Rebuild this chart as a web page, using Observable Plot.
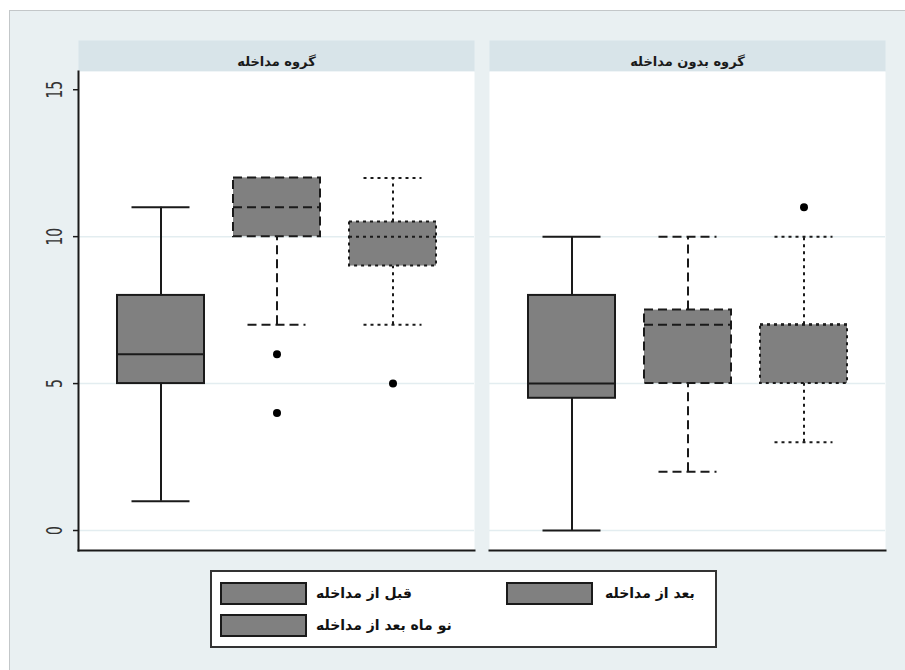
<!DOCTYPE html>
<html>
<head>
<meta charset="utf-8">
<script src="https://cdn.jsdelivr.net/npm/d3@7"></script>
<script src="https://cdn.jsdelivr.net/npm/@observablehq/plot@0.6"></script>
<style>
  html, body { margin: 0; padding: 0; background: #ffffff; }
  #page { position: relative; width: 905px; height: 670px; overflow: hidden; font-family: "DejaVu Sans", sans-serif; }
  #bg { position: absolute; left: 9px; top: 10px; width: 905px; height: 670px; background: #e9f0f2; border-top: 1.5px solid #c3c7c9; border-left: 1.5px solid #c3c7c9; }
  #chart { position: absolute; left: 0; top: 0; }
  #legend { position: absolute; left: 210px; top: 570px; width: 503px; height: 74px; background: #ffffff; border: 2px solid #333333; }
  .key { position: absolute; width: 83px; height: 19px; background: #808080; border: 2px solid #1a1a1a; }
  .lab { position: absolute; font-weight: bold; font-size: 14px; color: #111; white-space: nowrap; line-height: 23px; }
</style>
</head>
<body>
<div id="page">
  <div id="bg"></div>
  <div id="chart"></div>
  <div id="legend"></div>
</div>
<script>
// ---- data ----
const groups = ["گروه مداخله", "گروه بدون مداخله"];
const times = ["قبل از مداخله", "بعد از مداخله", "نو ماه بعد از مداخله"];
// box statistics, order: group 1 (3 times), group 2 (3 times)
const lowWhisker  = [1, 7, 7, 0, 2, 3];
const lowerQuart  = [5, 10, 9, 4.5, 5, 5];
const medians     = [6, 11, 10, 5, 7, 7];
const upperQuart  = [8, 12, 10.5, 8, 7.5, 7];
const highWhisker = [11, 12, 12, 10, 10, 10];
// outside values
const outlierGroup = [0, 0, 0, 1];
const outlierTime  = [1, 1, 2, 2];
const outlierValue = [6, 4, 5, 11];
const yTicks = [0, 5, 10, 15];
const gridValues = [0, 5, 10];

// ---- tables ----
const boxes = groups.flatMap((g, gi) => times.map((t, ti) => {
  const k = gi * times.length + ti;
  return {group: g, time: t, ti, lo: lowWhisker[k], q1: lowerQuart[k], med: medians[k], q3: upperQuart[k], hi: highWhisker[k]};
}));
const outliers = outlierValue.map((v, i) => ({group: groups[outlierGroup[i]], time: times[outlierTime[i]], value: v}));

// ---- styles ----
const dashes = [null, "9,5", "3,4"];
const ink = "#1a1a1a";
const W = 905, H = 560, mTop = 71, mBottom = 10, mLeft = 77, mRight = 19;
const innerH = H - mTop - mBottom;

const marks = [
  Plot.frame({fill: "#d8e4e9", stroke: "none", insetTop: -31, insetBottom: innerH}),
  Plot.frame({fill: "#ffffff", stroke: "none"}),
  Plot.ruleY(gridValues, {stroke: "#e3edf0", strokeWidth: 1.5}),
  Plot.text(groups, {fx: d => d, text: d => d, frameAnchor: "top", dy: -15, fontWeight: "bold", fontSize: 13, fill: ink}),
];

times.forEach((t, ti) => {
  const data = boxes.filter(d => d.ti === ti);
  const dash = dashes[ti];
  const common = {fx: "group", x: "time", stroke: ink, strokeWidth: 2, strokeDasharray: dash};
  marks.push(
    Plot.ruleX(data, {...common, y1: "q3", y2: "hi"}),
    Plot.ruleX(data, {...common, y1: "lo", y2: "q1"}),
    Plot.tickY(data, {...common, y: "hi", insetLeft: 14.5, insetRight: 14.5}),
    Plot.tickY(data, {...common, y: "lo", insetLeft: 14.5, insetRight: 14.5}),
    Plot.barY(data, {...common, y1: "q1", y2: "q3", fill: "#808080"}),
    Plot.tickY(data, {...common, y: "med"})
  );
});

marks.push(
  Plot.dot(outliers, {fx: "group", x: "time", y: "value", r: 4, fill: "#000000", stroke: "none"}),
  Plot.frame({anchor: "bottom", stroke: ink, strokeWidth: 2}),
  Plot.frame({anchor: "left", facetAnchor: "left", stroke: ink, strokeWidth: 2}),
  Plot.axisY({ticks: yTicks, tickSize: 5, tickPadding: 12, tickRotate: -90, fontSize: 14, label: null, stroke: ink, strokeWidth: 1.5, fill: "#333"})
);

const chart = Plot.plot({
  width: W, height: H,
  marginTop: mTop, marginBottom: mBottom, marginLeft: mLeft, marginRight: mRight,
  style: {background: "transparent", fontFamily: "DejaVu Sans, sans-serif"},
  fx: {domain: groups, paddingInner: 0.036, paddingOuter: 0, axis: null, label: null},
  x: {domain: times, paddingInner: 0.253, paddingOuter: 0.33, axis: null, label: null},
  y: {domain: [-0.68, 15.62], axis: null},
  marks
});
document.getElementById("chart").appendChild(chart);

// stretch rotated y tick labels like the reference rendering
d3.select(chart).selectAll("g[aria-label='y-axis tick label'] text").each(function() {
  const tr = this.getAttribute("transform") || "";
  this.setAttribute("transform", tr + " scale(1,1.5)");
});

// ---- legend ----
const legend = document.getElementById("legend");
const legendPos = [[8, 10, 104], [294, 10, 393], [8, 42, 104]]; // swatch left, top, label left
times.forEach((t, i) => {
  const [l, tp, ll] = legendPos[i];
  const k = document.createElement("div");
  k.className = "key"; k.style.left = l + "px"; k.style.top = tp + "px";
  legend.appendChild(k);
  const s = document.createElement("div");
  s.className = "lab"; s.dir = "rtl"; s.style.left = ll + "px"; s.style.top = tp + "px";
  s.textContent = t;
  legend.appendChild(s);
});
</script>
</body>
</html>
